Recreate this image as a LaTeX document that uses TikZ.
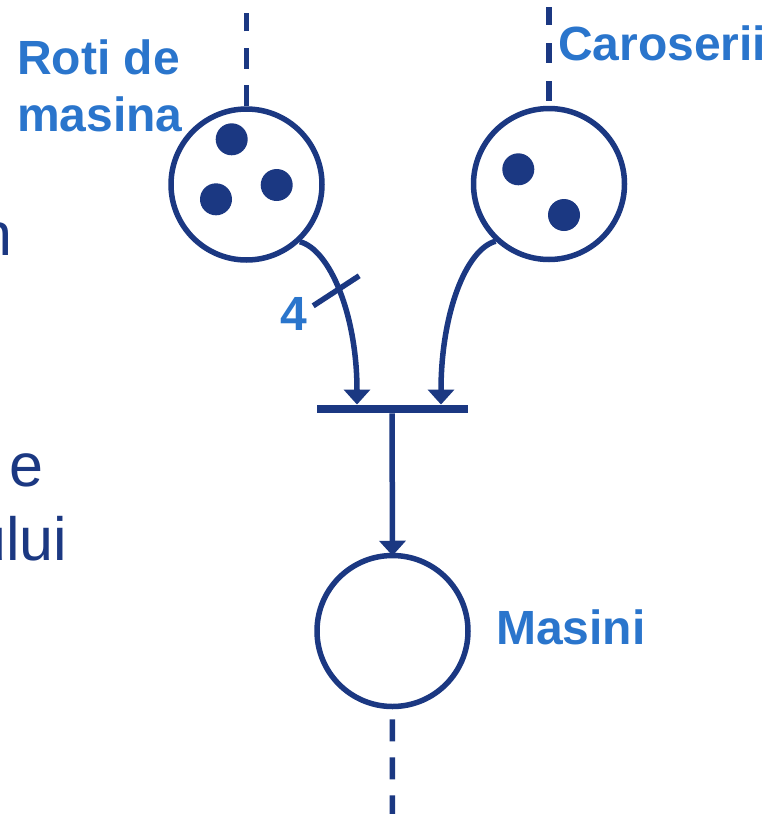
\documentclass[tikz,border=0pt]{standalone}
\usepackage{fontspec}
\setmainfont{Liberation Sans}
\usetikzlibrary{arrows.meta,calc}

\definecolor{netblue}{RGB}{27,56,130}
\definecolor{labelblue}{RGB}{42,117,204}

\tikzset{
  place/.style={circle, draw=netblue, line width=5.5pt, minimum size=151pt, inner sep=0pt, fill=white},
  token/.style={fill=netblue},
  trans/.style={rectangle, fill=netblue, minimum width=151pt, minimum height=8.5pt, inner sep=0pt},
  arc/.style={draw=netblue, line width=5.5pt, -{Triangle[width=26pt,length=15pt]}},
  openend/.style={draw=netblue, line width=5.5pt},
  netlabel/.style={text=labelblue, font=\fontsize{48}{57.7}\selectfont\bfseries, inner sep=0pt},
  bodytext/.style={text=netblue, font=\fontsize{61}{74}\selectfont, inner sep=0pt, anchor=base west}
}

\begin{document}
\begin{tikzpicture}[x=1pt, y=-1pt]
  \path[use as bounding box] (0,0) rectangle (782,814);
  \clip (0,0) rectangle (782,814);
  \fill[white] (0,0) rectangle (782,814);

  % fragments of the surrounding body text
  \node[bodytext] (txtn) at (-22,255) {n};
  \node[bodytext] (txte) at (9.5,486) {e};
  \node[bodytext] (txtu) at (-28,560) {ului};

  % places and transition
  \node[place] (lp) at (246.5,184.5) {};
  \node[place] (rp) at (549,184) {};
  \node[place] (mp) at (392.5,631) {};
  \node[trans] (t) at (392,409) {};

  % tokens
  \fill[token] (231.7,139.3) circle[radius=16pt];
  \fill[token] (276.7,185) circle[radius=16pt];
  \fill[token] (216,199.3) circle[radius=16pt];
  \fill[token] (518.3,169.3) circle[radius=16pt];
  \fill[token] (564,215) circle[radius=16pt];

  % open ends of the net
  \coordinate (ltop) at (246.5,13);
  \coordinate (rtop) at (549,7);
  \coordinate (mbot) at (392.3,820);
  \draw[openend, dash pattern=on 21pt off 16.5pt] (lp.north) -- (ltop);
  \draw[openend, dash pattern=on 20pt off 18pt, dash phase=33pt] (rp.north) -- (rtop);
  \draw[openend, dash pattern=on 22pt off 16pt, dash phase=28pt] (mp.south) -- (mbot);

  % arcs
  \draw[arc] (lp.-47) .. controls +(30,8) and +(0,-90) .. ($(t.north)+(-35,0)$);
  \draw[arc] (rp.-133) .. controls +(-30,8) and +(0,-90) .. ($(t.north)+(49,0)$);
  \draw[arc, shorten >=-3pt] (t.south) -- (mp.north);

  % arc weight
  \coordinate (tick) at (336.2,290.8);
  \draw[draw=netblue, line width=5.5pt] ($(tick)+(-23,15)$) -- ($(tick)+(23,-15)$);
  \node[netlabel] (w) at (294,313.5) {4};

  % place labels
  \node[netlabel, anchor=base west, align=left] (lpl) at (17,131.7) {Roti de\\masina};
  \node[netlabel, anchor=base west] (rpl) at (558,60) {Caroserii};
  \node[netlabel, anchor=base west] (mpl) at (496,644) {Masini};
\end{tikzpicture}
\end{document}
